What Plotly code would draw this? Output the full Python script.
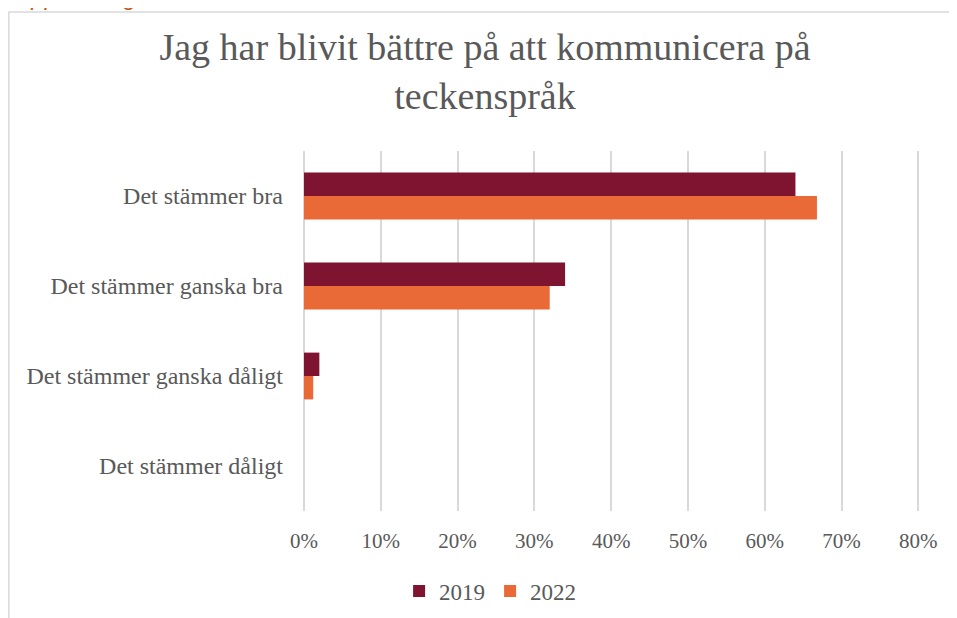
import plotly.graph_objects as go

# data
categories = ["Det stämmer bra", "Det stämmer ganska bra",
              "Det stämmer ganska dåligt", "Det stämmer dåligt"]
values_2019 = [0.64, 0.34, 0.02, 0.0]
values_2022 = [0.668, 0.32, 0.012, 0.0]
series_names = ["2019", "2022"]
tick_vals = [0, 0.1, 0.2, 0.3, 0.4, 0.5, 0.6, 0.7, 0.8]
tick_text = ["0%", "10%", "20%", "30%", "40%", "50%", "60%", "70%", "80%"]

W, H = 957, 618
OFF = 8  # page body margin shifts the figure by this much
XMAX = 0.8035  # a little past 80% so the last gridline is still drawn
# plot area in screen pixels: x 304..(80% at 918), y 151..511
x_end = 304 + (918 - 304) * XMAX / 0.8
L, T = 304 - OFF, 151 - OFF
R, B = W - (x_end - OFF), H - (511 - OFF)
pw, ph = W - L - R, H - T - B
FONT = "Liberation Serif, Times New Roman, serif"
GREY = "#595959"


def px(x):
    # screen pixel -> paper x
    return (x - OFF - L) / pw


def py(y):
    # screen pixel -> paper y
    return (H - B - (y - OFF)) / ph


fig = go.Figure()
fig.add_trace(go.Bar(y=categories, x=values_2019, name=series_names[0], orientation="h",
                     marker=dict(color="#7F1431", line=dict(width=0))))
fig.add_trace(go.Bar(y=categories, x=values_2022, name=series_names[1], orientation="h",
                     marker=dict(color="#E96A37", line=dict(width=0))))

fig.update_layout(
    width=W, height=H,
    margin=dict(l=L, r=R, t=T, b=B, autoexpand=False),
    plot_bgcolor="white", paper_bgcolor="white",
    barmode="group", bargap=0.48, bargroupgap=0,
    font=dict(family=FONT, size=21, color=GREY),
    title=dict(text="Jag har blivit bättre på att kommunicera på<br>teckenspråk",
               x=(485 - OFF) / W, xanchor="center", xref="container",
               y=1 - (60 - OFF) / H, yanchor="middle", yref="container",
               font=dict(family=FONT, size=38, color=GREY)),
    legend=dict(orientation="h", x=px(490), xanchor="center", y=py(591), yanchor="middle",
                font=dict(size=23, color=GREY), itemwidth=30, traceorder="normal"),
    xaxis=dict(range=[0, XMAX], tickvals=tick_vals, ticktext=tick_text,
               tickfont=dict(size=21),
               showgrid=True, gridcolor="#D9D9D9", gridwidth=1.5,
               zeroline=True, zerolinecolor="#D9D9D9", zerolinewidth=1.5,
               showline=False, ticks="", ticklabelstandoff=15, fixedrange=True,
               automargin=False),
    yaxis=dict(autorange="reversed", showgrid=False, showline=False, ticks="",
               tickfont=dict(size=24),
               ticklabelstandoff=20, fixedrange=True, automargin=False),
    shapes=[dict(type="rect", xref="paper", yref="paper",
                 x0=px(9), x1=px(W + 20), y0=py(H + 20), y1=py(12),
                 line=dict(color="#D9D9D9", width=1.5), layer="below")],
    annotations=[dict(text="<i>Uppfattning</i>", xref="paper", yref="paper",
                      x=px(12), xanchor="left", y=py(-4), yanchor="middle",
                      showarrow=False,
                      font=dict(family="Liberation Sans, Arial", size=24, color="#C55A11"))],
)

fig.write_html("out.html")
